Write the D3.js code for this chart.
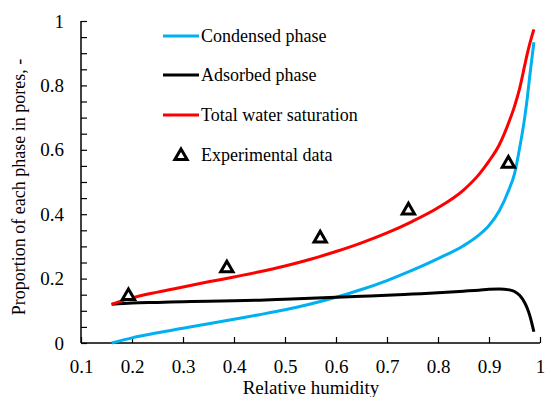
<!DOCTYPE html>
<html><head><meta charset="utf-8">
<script src="https://cdn.jsdelivr.net/npm/d3@7"></script>
<style>body{margin:0;background:#fff}svg{display:block}svg text{font-family:"Liberation Serif","Times New Roman",Times,"DejaVu Serif","Noto Serif",serif;fill:#000}</style>
</head><body><svg id="c" width="545" height="397"></svg>
<script>
const rh = [0.16,0.2,0.25,0.3,0.35,0.4,0.45,0.5,0.55,0.6,0.65,0.7,0.75,0.8,0.85,0.88,0.9,0.92,0.94,0.95,0.96,0.97,0.975,0.98,0.985,0.988];
const condensed = [0,0.016,0.032,0.046,0.06,0.074,0.088,0.103,0.121,0.142,0.166,0.194,0.226,0.262,0.302,0.335,0.365,0.41,0.48,0.525,0.605,0.70,0.76,0.83,0.895,0.934];
const adsorbed = [0.12,0.124,0.126,0.128,0.13,0.131,0.133,0.136,0.139,0.142,0.145,0.148,0.152,0.156,0.161,0.164,0.167,0.168,0.165,0.16,0.148,0.125,0.108,0.085,0.055,0.035];
const total = [0.12,0.14,0.158,0.174,0.19,0.205,0.221,0.239,0.26,0.284,0.311,0.342,0.378,0.42,0.475,0.523,0.565,0.615,0.69,0.735,0.79,0.862,0.898,0.93,0.958,0.974];
const expX = [0.193,0.386,0.569,0.742,0.938];
const expY = [0.149,0.235,0.328,0.415,0.56];
const xTicks = [0.1,0.2,0.3,0.4,0.5,0.6,0.7,0.8,0.9,1];
const yTicks = [0,0.2,0.4,0.6,0.8,1];
const seriesNames = ["Condensed phase","Adsorbed phase","Total water saturation","Experimental data"];
const seriesColors = ["#00B0F0","#000000","#FF0000"];
const FONT = '"Liberation Serif","Times New Roman",Times,"DejaVu Serif","Noto Serif",serif';

const svg = d3.select("#c");
const x = d3.scaleLinear().domain([0.1,1]).range([81,540]);
const y = d3.scaleLinear().domain([0,1]).range([343,21]);

// axes
const xa = svg.append("g").attr("transform","translate(0,343)")
  .call(d3.axisBottom(x).tickValues(xTicks).tickSize(-6).tickPadding(17).tickFormat(d=>d3.format("")(+d.toFixed(1))));
const ya = svg.append("g").attr("transform","translate(81,0)")
  .call(d3.axisLeft(y).tickValues(d3.range(0,1.0001,0.05)).tickSize(-6).tickPadding(17)
    .tickFormat(d=>{const r=Math.round(d*100); return r%20===0? d3.format("")(+d.toFixed(1)):"";}));
[xa,ya].forEach(g=>{
  g.attr("font-family",FONT);
  g.select(".domain").attr("stroke","#000").attr("stroke-width",1.5);
  g.selectAll(".tick line").attr("stroke","#000").attr("stroke-width",1.2);
  g.selectAll(".tick text").attr("font-size",19).attr("fill","#000");
});
xa.select(".domain").attr("d","M81,0H540");
ya.select(".domain").attr("d","M0,343V21");

// lines
const line = d3.line().x((d,i)=>x(rh[i])).y(d=>y(d)).curve(d3.curveMonotoneX);
[condensed,adsorbed,total].forEach((s,k)=>{
  svg.append("path").attr("d",line(s)).attr("fill","none").attr("stroke",seriesColors[k]).attr("stroke-width",3);
});

// experimental markers
const tri = d3.symbol().type(d3.symbolTriangle).size(65);
svg.selectAll(".exp").data(expX).join("path")
  .attr("transform",(d,i)=>`translate(${x(d)},${y(expY[i])+1})`)
  .attr("d",tri()).attr("fill","#fff").attr("stroke","#000").attr("stroke-width",3);

// legend
const lg = svg.append("g").attr("font-family",FONT);
const ly = [36,75,115,155];
seriesNames.forEach((n,i)=>{
  if(i<3){
    lg.append("line").attr("x1",163).attr("x2",199).attr("y1",ly[i]).attr("y2",ly[i])
      .attr("stroke",seriesColors[i]).attr("stroke-width",3);
  } else {
    lg.append("path").attr("transform",`translate(181,${ly[i]+1})`).attr("d",tri())
      .attr("fill","#fff").attr("stroke","#000").attr("stroke-width",3);
  }
  lg.append("text").attr("x",201).attr("y",ly[i]+6).attr("font-size",18).text(n);
});

// axis titles
svg.append("text").attr("x",311).attr("y",394).attr("text-anchor","middle").attr("font-size",19).attr("font-family",FONT).text("Relative humidity");
svg.append("text").attr("transform","translate(25,187) rotate(-90)").attr("text-anchor","middle").attr("font-size",18).attr("font-family",FONT)
  .text("Proportion of each phase in pores, -");
</script></body></html>
